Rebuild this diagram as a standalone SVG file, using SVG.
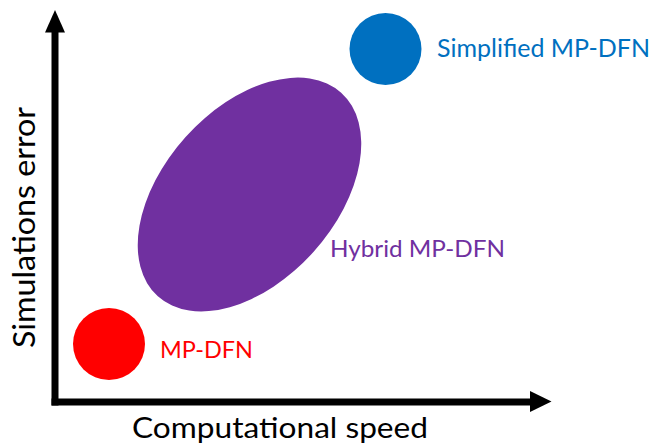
<svg xmlns="http://www.w3.org/2000/svg" width="655" height="443" viewBox="0 0 655 443">
  <style>
    .lbl { font-family: Lato, "Open Sans", "Liberation Sans", sans-serif; }
    .axis { stroke: #000; stroke-width: 7; fill: none; }
    .head { fill: #000; }
  </style>
  <rect width="655" height="443" fill="#fff"/>
  <g id="connectors">
    <g id="y-axis">
      <line class="axis" x1="55" y1="405.5" x2="55" y2="30"/>
      <polygon class="head" points="55,10 65,32.5 45,32.5"/>
      <text class="lbl" font-size="30" fill="#000" transform="translate(35,348) rotate(-90)" textLength="241" lengthAdjust="spacingAndGlyphs">Simulations error</text>
    </g>
    <g id="x-axis">
      <line class="axis" x1="51.5" y1="402" x2="532" y2="402"/>
      <polygon class="head" points="551.5,401.5 530,391 530,412"/>
      <text class="lbl" font-size="29" fill="#000" x="132" y="438" textLength="296" lengthAdjust="spacingAndGlyphs">Computational speed</text>
    </g>
  </g>
  <g id="hybrid">
    <ellipse cx="249.5" cy="194.5" rx="137" ry="86" fill="#7030A0" transform="rotate(-48 249.5 194.5)"/>
    <text class="lbl" font-size="24" fill="#7030A0" x="330" y="257" textLength="175" lengthAdjust="spacingAndGlyphs">Hybrid MP-DFN</text>
  </g>
  <g id="simplified">
    <circle cx="385.5" cy="49" r="36" fill="#0070C0"/>
    <text class="lbl" font-size="25" fill="#0070C0" x="437" y="57" textLength="213" lengthAdjust="spacingAndGlyphs">Simplified MP-DFN</text>
  </g>
  <g id="mpdfn">
    <circle cx="109" cy="344" r="36" fill="#FF0000"/>
    <text class="lbl" font-size="24" fill="#FF0000" x="160" y="358" textLength="93" lengthAdjust="spacingAndGlyphs">MP-DFN</text>
  </g>
</svg>
